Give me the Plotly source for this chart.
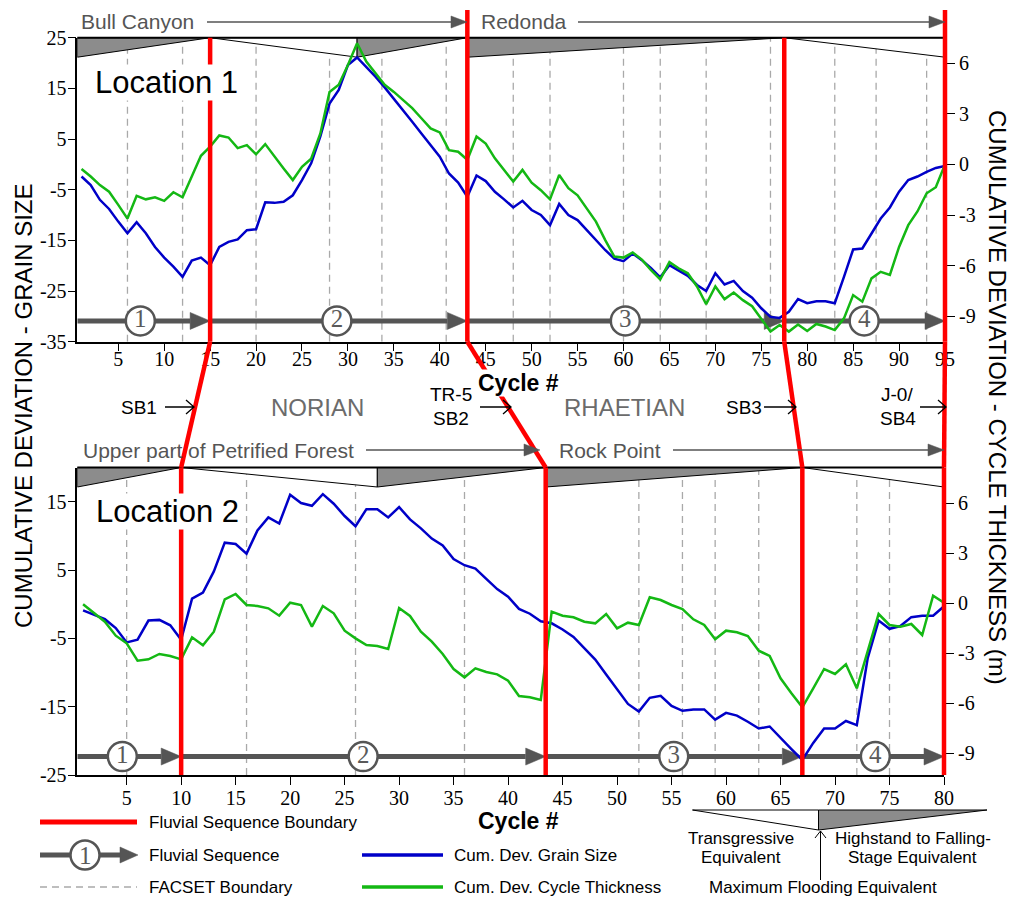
import plotly.graph_objects as go

W, H = 1010, 897
SANS = "Liberation Sans, Arial, sans-serif"
SERIF = "Liberation Serif, Times New Roman, serif"
BLUE = "#0000c8"
GREEN = "#14b814"
RED = "#ff0000"
SEQ = "#555555"
WEDGE = "#8c8c8c"
FAC = "#a9a9a9"

# ------------------------------------------------------------------ data
cycles_top = list(range(1, 96))
grain_top = [-2.4, -4.1, -7.0, -8.8, -11.3, -13.6, -11.4, -13.6, -16.3, -18.4,
             -20.2, -22.2, -19.0, -18.4, -19.9, -16.3, -15.3, -14.8, -13.0, -12.8,
             -7.5, -7.6, -7.4, -6.1, -3.1, 0.2, 5.5, 12.0, 14.7, 19.6,
             21.1, 19.3, 17.3, 15.2, 13.0, 10.7, 8.4, 6.1, 3.8, 1.5,
             -1.8, -3.6, -6.4, -2.2, -3.3, -5.4, -6.9, -8.5, -7.2, -9.0,
             -10.0, -12.0, -7.8, -10.0, -11.0, -13.0, -14.9, -16.9, -18.6, -19.1,
             -17.6, -18.9, -20.5, -22.3, -19.9, -21.0, -22.0, -23.8, -25.0, -21.5,
             -23.7, -23.0, -25.0, -26.3, -28.4, -30.1, -30.3, -29.1, -26.6, -27.4,
             -27.0, -27.0, -27.4, -22.2, -16.8, -16.6, -13.6, -10.7, -8.5, -5.4,
             -3.1, -2.4, -1.5, -0.7, -0.3]
thick_top = [-0.27, -0.72, -1.23, -1.62, -2.40, -3.21, -1.86, -2.07, -1.95, -2.16,
             -1.65, -1.95, -0.72, 0.51, 1.05, 1.71, 1.59, 0.96, 1.14, 0.60,
             1.20, 0.45, -0.24, -0.93, -0.15, 0.33, 1.83, 4.29, 4.71, 5.88,
             7.17, 6.09, 5.40, 4.71, 4.29, 3.81, 3.33, 2.73, 2.13, 1.89,
             0.84, 0.75, 0.27, 1.65, 1.23, 0.36, -0.33, -1.02, -0.33, -1.08,
             -1.53, -2.07, -0.63, -1.41, -1.83, -2.61, -3.39, -4.47, -5.46, -5.52,
             -5.22, -5.64, -6.27, -6.81, -5.79, -6.15, -6.45, -7.23, -8.28, -7.23,
             -7.98, -7.59, -8.04, -8.40, -9.12, -9.90, -9.51, -9.90, -9.48, -9.87,
             -9.45, -9.60, -9.81, -9.12, -7.74, -8.13, -6.75, -6.36, -6.54, -4.89,
             -3.60, -2.79, -1.71, -1.35, 0.0]

cycles_bot = list(range(1, 81))
grain_bot = [-0.9, -1.5, -2.2, -3.5, -5.6, -5.2, -2.4, -2.3, -3.1, -5.2,
             0.8, 1.7, 4.8, 9.0, 8.8, 7.4, 10.8, 12.7, 11.8, 16.0,
             14.8, 14.4, 16.1, 14.7, 12.9, 11.4, 13.9, 13.9, 12.7, 14.2,
             12.4, 11.1, 9.6, 8.6, 6.6, 5.7, 5.2, 3.7, 2.2, 1.1,
             -0.7, -1.4, -2.5, -2.8, -3.7, -4.8, -6.4, -8.1, -10.3, -12.4,
             -14.6, -15.7, -13.7, -13.4, -14.9, -15.6, -15.4, -15.4, -16.9, -15.9,
             -16.3, -17.2, -18.2, -17.9, -19.6, -21.2, -22.8, -20.3, -18.2, -18.2,
             -17.1, -17.7, -7.9, -2.4, -3.6, -3.2, -1.9, -1.7, -1.7, -0.3]
thick_bot = [-0.06, -0.56, -1.10, -1.94, -2.40, -3.44, -3.36, -3.04, -3.16, -3.36,
             -2.04, -2.52, -1.70, 0.24, 0.56, -0.10, -0.16, -0.30, -0.74, 0.04,
             -0.10, -1.40, -0.16, -0.60, -1.64, -2.10, -2.50, -2.56, -2.74, -0.28,
             -0.76, -1.70, -2.30, -3.04, -3.94, -4.44, -3.90, -4.12, -4.26, -4.64,
             -5.56, -5.64, -5.80, -0.50, -0.74, -0.84, -1.10, -1.20, -0.64, -1.50,
             -1.16, -1.30, 0.36, 0.20, -0.10, -0.34, -0.96, -1.30, -2.16, -1.64,
             -1.74, -1.96, -2.84, -3.16, -4.50, -5.40, -6.24, -5.10, -3.94, -4.24,
             -3.66, -5.10, -2.80, -0.64, -1.30, -1.40, -1.24, -1.90, 0.46, 0.04]

seq_labels = ["1", "2", "3", "4"]
seq_bounds_top = [15, 43, 77.5, 95]
seq_bounds_bot = [10, 43.45, 67, 80]
seq_label_pos_top = [7.4, 28.8, 60.2, 86.2]
seq_label_pos_bot = [4.6, 26.7, 55.2, 73.7]
formation_bounds_top = [43, 95]
facset_top = [6, 12, 20, 28, 33.7, 40.7, 48, 52, 60, 64, 69, 76, 83, 87.5, 93]
facset_bot = [5, 16, 26, 36, 52, 56, 59, 63, 72, 75]
# systems-tract wedges: (start, end, kind)  H = highstand (grey), T = transgressive (white)
tracts_top = [(None, 15, "H"), (15, 31, "T"), (31, 43, "H"), (43, 77.5, "H"), (77.5, 95, "T")]
tracts_bot = [(None, 10, "H"), (10, 28, "T"), (28, 43.45, "H"), (43.45, 67, "H"), (67, 80, "T")]
xticks_top = list(range(5, 96, 5))
xticks_bot = list(range(5, 81, 5))
gs_ticks_top = [-35, -25, -15, -5, 5, 15, 25]
gs_ticks_bot = [-25, -15, -5, 5, 15]
ct_ticks = [-9, -6, -3, 0, 3, 6]

# ------------------------------------------------------------------ helpers
shapes = []
annotations = []


def X(px):
    return px / W


def Y(py):
    return 1 - py / H


def line_px(x0, y0, x1, y1, color, width, dash=None):
    shapes.append(dict(type="line", xref="paper", yref="paper", x0=X(x0), y0=Y(y0),
                       x1=X(x1), y1=Y(y1), line=dict(color=color, width=width, dash=dash),
                       layer="above"))


def path_px(pts, fill, lcolor="black", lwidth=1, close=True):
    d = "M" + " L".join(f"{X(a):.5f},{Y(b):.5f}" for a, b in pts) + (" Z" if close else "")
    shapes.append(dict(type="path", xref="paper", yref="paper", path=d,
                       fillcolor=fill, line=dict(color=lcolor, width=lwidth), layer="above"))


def text_px(x, y, s, size, color="black", xanchor="center", family=SANS, bg=None, angle=0):
    a = dict(xref="paper", yref="paper", x=X(x), y=Y(y), text=s, showarrow=False,
             xanchor=xanchor, yanchor="middle", textangle=angle, borderpad=0,
             font=dict(family=family, size=size, color=color))
    if bg:
        a["bgcolor"] = bg
    annotations.append(a)


def arrow_px(x0, x1, y, color=SEQ, head=16, half=6):
    line_px(x0, y, x1 - head, y, color, 1.3)
    path_px([(x1, y), (x1 - head, y - half), (x1 - head, y + half)], color, color, 0.5)


def chevron_px(x0, x1, y):
    d = (f"M{X(x0):.5f},{Y(y):.5f} L{X(x1):.5f},{Y(y):.5f} "
         f"M{X(x1 - 8):.5f},{Y(y - 7):.5f} L{X(x1):.5f},{Y(y):.5f} L{X(x1 - 8):.5f},{Y(y + 7):.5f}")
    shapes.append(dict(type="path", xref="paper", yref="paper", path=d,
                       line=dict(color="black", width=1.3), layer="above"))


panels = [
    dict(xa="x", ya="y", ya2="y2", xkey="xaxis", ykey="yaxis", y2key="yaxis2",
         xdom=[77.3 / W, 945 / W], ydom=[Y(341.7), Y(37.7)],
         xr=[0.54, 95], yr=[-35, 25], y2r=[-10.5, 7.5],
         cyc=cycles_top, gs=grain_top, ct=thick_top, bounds=seq_bounds_top,
         lab=seq_label_pos_top, fac=facset_top, tracts=tracts_top, level=-30.9,
         xt=xticks_top, yt=gs_ticks_top, xstand=-9),
    dict(xa="x2", ya="y3", ya2="y4", xkey="xaxis2", ykey="yaxis3", y2key="yaxis4",
         xdom=[77.3 / W, 944 / W], ydom=[Y(775), Y(467.5)],
         xr=[0.47, 80], yr=[-25, 20], y2r=[-10.3, 8.15],
         cyc=cycles_bot, gs=grain_bot, ct=thick_bot, bounds=seq_bounds_bot,
         lab=seq_label_pos_bot, fac=facset_bot, tracts=tracts_bot, level=-22.3,
         xt=xticks_bot, yt=gs_ticks_bot, xstand=-4),
]


def paper_x(c, p):
    return p["xdom"][0] + (c - p["xr"][0]) / (p["xr"][1] - p["xr"][0]) * (p["xdom"][1] - p["xdom"][0])


fig = go.Figure()
layout_axes = {}

for p in panels:
    xr, yr = p["xr"], p["yr"]
    ppc = (p["xdom"][1] - p["xdom"][0]) * W / (xr[1] - xr[0])
    ppu = (p["ydom"][1] - p["ydom"][0]) * H / (yr[1] - yr[0])

    # FACSET boundaries
    for c in p["fac"]:
        shapes.append(dict(type="line", xref=p["xa"], yref=p["ya"], x0=c, x1=c, y0=yr[0], y1=yr[1],
                           line=dict(color=FAC, width=1.3, dash="7px,5px"), layer="below"))
    # systems tract wedges
    top = yr[1]
    bot = yr[1] - 19.5 / ppu
    for s, e, kind in p["tracts"]:
        s = xr[0] if s is None else s
        if kind == "H":
            pts = [(s, top), (s, bot), (e, top)]
            fill = WEDGE
        else:
            pts = [(s, top), (e, top), (e, bot)]
            fill = "white"
        d = "M" + " L".join(f"{a},{b}" for a, b in pts) + " Z"
        shapes.append(dict(type="path", xref=p["xa"], yref=p["ya"], path=d, fillcolor=fill,
                           line=dict(color="black", width=1), layer="below"))
    # band top line
    shapes.append(dict(type="line", xref="paper", yref="paper", x0=p["xdom"][0], x1=p["xdom"][1],
                       y0=p["ydom"][1], y1=p["ydom"][1], line=dict(color="black", width=2),
                       layer="above"))

    # fluvial sequence arrows
    head_len = 20 / ppc
    head_h = 8.5 / ppu
    starts = [xr[0]] + p["bounds"][:-1]
    xs, ys = [], []
    for s, e in zip(starts, p["bounds"]):
        xs += [s, e - head_len, None]
        ys += [p["level"], p["level"], None]
    fig.add_trace(go.Scatter(x=xs, y=ys, mode="lines", line=dict(color=SEQ, width=5),
                             xaxis=p["xa"], yaxis=p["ya"], hoverinfo="skip", showlegend=False))
    for e in p["bounds"]:
        lv = p["level"]
        d = f"M{e},{lv} L{e - head_len},{lv + head_h} L{e - head_len},{lv - head_h} Z"
        shapes.append(dict(type="path", xref=p["xa"], yref=p["ya"], path=d, fillcolor=SEQ,
                           line=dict(color=SEQ, width=0.5), layer="below"))
    fig.add_trace(go.Scatter(x=p["lab"], y=[p["level"]] * len(p["lab"]), mode="markers+text",
                             text=seq_labels, textposition="middle center",
                             textfont=dict(family=SERIF, size=25, color="#5a5a5a"),
                             marker=dict(size=29, color="white", line=dict(color=SEQ, width=2.5)),
                             xaxis=p["xa"], yaxis=p["ya"], hoverinfo="skip", showlegend=False))

    # curves
    fig.add_trace(go.Scatter(x=p["cyc"], y=p["gs"], mode="lines", line=dict(color=BLUE, width=2.5),
                             xaxis=p["xa"], yaxis=p["ya"], hoverinfo="skip", showlegend=False))
    fig.add_trace(go.Scatter(x=p["cyc"], y=p["ct"], mode="lines", line=dict(color=GREEN, width=2.5),
                             xaxis=p["xa"], yaxis=p["ya2"], hoverinfo="skip", showlegend=False))

    tickfont = dict(family=SERIF, size=20, color="black")
    layout_axes[p["xkey"]] = dict(domain=p["xdom"], range=xr, anchor=p["ya"], showline=True,
                                  linecolor="black", linewidth=1.5, ticks="outside", ticklen=8,
                                  tickwidth=1.2, tickcolor="black", tickvals=p["xt"],
                                  ticktext=[str(v) for v in p["xt"]], tickfont=tickfont,
                                  ticklabelstandoff=p["xstand"],
                                  showgrid=False, zeroline=False, automargin=False)
    layout_axes[p["ykey"]] = dict(domain=p["ydom"], range=yr, anchor=p["xa"], showline=True,
                                  linecolor="black", linewidth=1.5, ticks="outside", ticklen=8,
                                  tickwidth=1.2, tickcolor="black", tickvals=p["yt"],
                                  ticktext=[str(v) for v in p["yt"]], tickfont=tickfont,
                                  ticklabelstandoff=-3,
                                  showgrid=False, zeroline=False, automargin=False)
    layout_axes[p["y2key"]] = dict(range=p["y2r"], overlaying=p["ya"], side="right", anchor=p["xa"],
                                   showline=False, ticks="outside", ticklen=9, tickwidth=1.2,
                                   tickcolor="black", tickvals=ct_ticks,
                                   ticktext=[str(v) for v in ct_ticks], tickfont=tickfont,
                                   showgrid=False, zeroline=False, automargin=False)

# red fluvial sequence boundaries
pt, pb = panels
for c in pt["bounds"]:
    ytop = Y(10) if c in formation_bounds_top else pt["ydom"][1]
    xp = paper_x(c, pt)
    shapes.append(dict(type="line", xref="paper", yref="paper", x0=xp, x1=xp,
                       y0=pt["ydom"][0], y1=ytop, line=dict(color=RED, width=4.5), layer="above"))
for c in pb["bounds"]:
    xp = paper_x(c, pb)
    shapes.append(dict(type="line", xref="paper", yref="paper", x0=xp, x1=xp,
                       y0=pb["ydom"][0], y1=pb["ydom"][1], line=dict(color=RED, width=4.5),
                       layer="above"))
for ct_, cb_ in zip(pt["bounds"], pb["bounds"]):
    shapes.append(dict(type="line", xref="paper", yref="paper", x0=paper_x(ct_, pt), y0=pt["ydom"][0],
                       x1=paper_x(cb_, pb), y1=pb["ydom"][1], line=dict(color=RED, width=4.5),
                       layer="above"))

# formation labels
text_px(137.5, 21.5, "Bull Canyon", 21, SEQ)
arrow_px(207, 467, 22)
text_px(524, 21.5, "Redonda", 21, SEQ)
arrow_px(578, 945, 22)
text_px(218.5, 450, "Upper part of Petrified Forest", 21, SEQ)
arrow_px(366, 540, 450)
text_px(610, 450, "Rock Point", 21, SEQ)
arrow_px(673, 944, 450)

# sequence boundary / stage labels
text_px(139, 407, "SB1", 19)
chevron_px(165, 194, 407)
text_px(317, 407, "NORIAN", 24, "#6b6b6b")
text_px(429, 394, "TR-5", 19, xanchor="left")
text_px(451, 418, "SB2", 19)
chevron_px(480, 511, 407)
text_px(624, 407, "RHAETIAN", 24, "#6b6b6b")
text_px(744, 407, "SB3", 19)
chevron_px(764, 796, 407)
text_px(897, 394, "J-0/", 19)
text_px(898, 418, "SB4", 19)
chevron_px(920, 946, 407)
text_px(518, 383, "<b>Cycle #</b>", 23, bg="white")
text_px(518, 821, "<b>Cycle #</b>", 23, bg="white")

text_px(166.5, 82, "Location 1", 31, bg="white")
text_px(167, 511, "Location 2", 31, bg="white")

text_px(23, 406, "CUMULATIVE DEVIATION - GRAIN SIZE", 24, angle=-90)
text_px(998, 397, "CUMULATIVE DEVIATION - CYCLE THICKNESS (m)", 24, angle=90)

# legend
line_px(40, 822, 137, 822, RED, 5)
text_px(147.5, 822, "Fluvial Sequence Boundary", 17, xanchor="left")
line_px(40, 855, 120, 855, SEQ, 5)
path_px([(138, 855), (120, 847), (120, 863)], SEQ, SEQ, 0.5)
shapes.append(dict(type="circle", xref="paper", yref="paper", x0=X(70.5), x1=X(99.5),
                   y0=Y(869.5), y1=Y(840.5), fillcolor="white", line=dict(color=SEQ, width=2.5),
                   layer="above"))
text_px(85, 855, "1", 25, "#5a5a5a", family=SERIF)
text_px(147.5, 855, "Fluvial Sequence", 17, xanchor="left")
line_px(40, 887, 137, 887, FAC, 1.3, dash="7px,5px")
text_px(147.5, 887, "FACSET Boundary", 17, xanchor="left")
line_px(362, 855, 443, 855, BLUE, 3.5)
text_px(453, 855, "Cum. Dev. Grain Size", 17, xanchor="left")
line_px(362, 887, 443, 887, GREEN, 3.5)
text_px(453, 887, "Cum. Dev. Cycle Thickness", 17, xanchor="left")

path_px([(692.5, 810), (818.5, 810), (818.5, 830)], "white")
path_px([(818.5, 810), (987, 810), (818.5, 830)], WEDGE)
line_px(820.5, 831, 820.5, 880, "black", 1)
d = f"M{X(815):.5f},{Y(838):.5f} L{X(820.5):.5f},{Y(831):.5f} L{X(826):.5f},{Y(838):.5f}"
shapes.append(dict(type="path", xref="paper", yref="paper", path=d,
                   line=dict(color="black", width=1), layer="above"))
text_px(741, 838, "Transgressive", 17)
text_px(741, 857, "Equivalent", 17)
text_px(912.5, 838, "Highstand to Falling-", 17)
text_px(912.5, 857, "Stage Equivalent", 17)
text_px(823, 887, "Maximum Flooding Equivalent", 17)

fig.update_layout(width=W, height=H, autosize=False,
                  margin=dict(l=0, r=0, t=0, b=0, pad=0, autoexpand=False),
                  paper_bgcolor="white", plot_bgcolor="white", showlegend=False,
                  font=dict(family=SANS, color="black"), shapes=shapes, annotations=annotations,
                  **layout_axes)

fig.write_html("out.html", config={"displayModeBar": False},
               post_script="document.body.style.margin='0';document.body.style.overflow='hidden';")
